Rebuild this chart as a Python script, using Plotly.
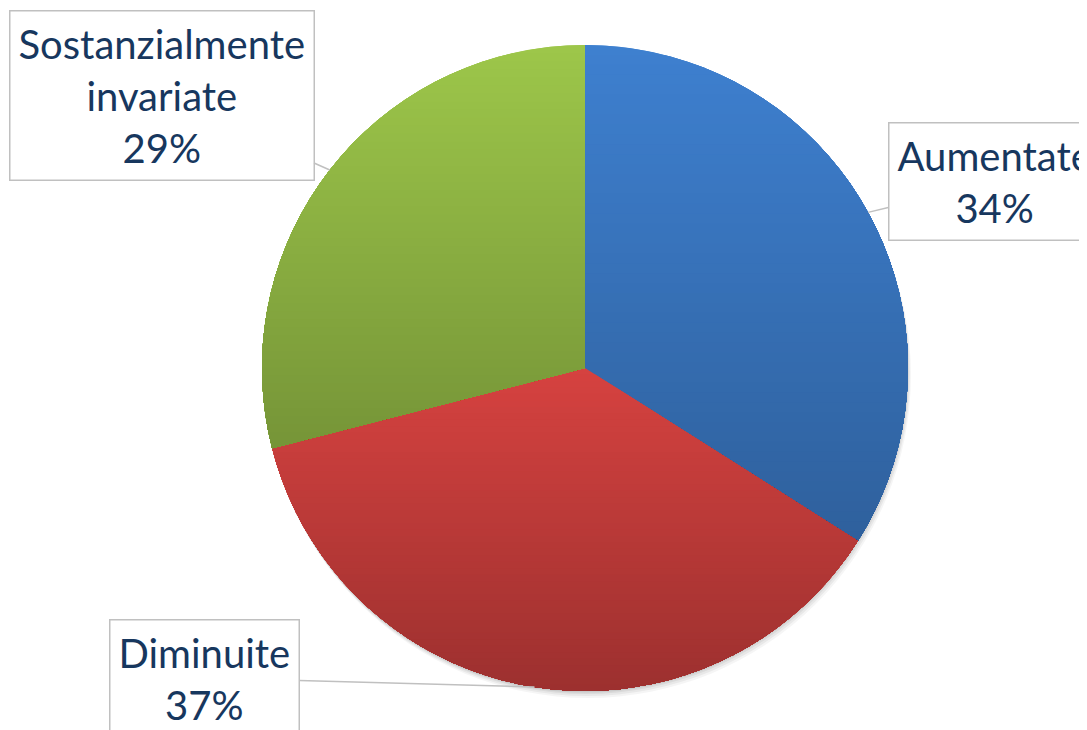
import math
import plotly.graph_objects as go

labels = ["Aumentate", "Diminuite", "Sostanzialmente invariate"]
label_lines = ["Aumentate", "Diminuite", "Sostanzialmente<br>invariate"]
values = [34, 37, 29]
top_colors = ["#3e80d0", "#d64240", "#9dc64a"]
bottom_factor = [0.75, 0.73, 0.75]
# callout box offsets (px) relative to the slice-edge tip
box_offsets = [(126, -31), (-330, -9), (-168, -75)]

W, H = 1079, 722
dom_x = [0.2354, 0.8341]
dom_y = [0.0540, 0.9488]

fig = go.Figure()
fig.add_trace(go.Pie(
    labels=labels, values=values, sort=False, direction="clockwise", rotation=0,
    marker=dict(colors=top_colors, line=dict(width=0)),
    textinfo="none", showlegend=False, hoverinfo="label+percent",
    domain=dict(x=dom_x, y=dom_y),
))

# pie geometry in pixels (derived from the domain)
cx = (dom_x[0] + dom_x[1]) / 2 * W
cy = (1 - (dom_y[0] + dom_y[1]) / 2) * H
r = min((dom_x[1] - dom_x[0]) * W, (dom_y[1] - dom_y[0]) * H) / 2


def to_paper(px, py):
    return px / W, 1 - py / H


def hex_rgb(h):
    h = h.lstrip("#")
    return [int(h[i:i + 2], 16) for i in (0, 2, 4)]


def clip_below(poly, yk):
    # keep part of polygon with py >= yk (Sutherland-Hodgman)
    out = []
    n = len(poly)
    for i in range(n):
        p = poly[i]
        q = poly[(i + 1) % n]
        pin = p[1] >= yk
        qin = q[1] >= yk
        if pin:
            out.append(p)
        if pin != qin:
            t = (yk - p[1]) / (q[1] - p[1])
            out.append((p[0] + t * (q[0] - p[0]), yk))
    return out


shapes = []
# soft shadow below pie
for dx, dy, a in [(3, 7, 0.04), (2, 5, 0.05), (1, 3, 0.06), (0, 1.5, 0.07)]:
    x0, y0 = to_paper(cx - r + dx, cy - r + dy)
    x1, y1 = to_paper(cx + r + dx, cy + r + dy)
    shapes.append(dict(type="circle", xref="paper", yref="paper", x0=x0, x1=x1,
                       y0=y1, y1=y0, fillcolor=f"rgba(0,0,0,{a})", line=dict(width=0),
                       layer="below"))

# per-slice vertical gradient (nested opaque bands clipped to each sector)
total = sum(values)
cum = 0
N = 50
for v, col, bf in zip(values, top_colors, bottom_factor):
    a0 = cum / total * 2 * math.pi
    a1 = (cum + v) / total * 2 * math.pi
    cum += v
    M = max(8, int(120 * v / total))
    poly = [(cx, cy)]
    for j in range(M + 1):
        phi = a0 + (a1 - a0) * j / M
        poly.append((cx + r * math.sin(phi), cy - r * math.cos(phi)))
    ymin = min(p[1] for p in poly)
    ymax = max(p[1] for p in poly)
    rgb = hex_rgb(col)
    for k in range(N):
        yk = ymin + (ymax - ymin) * k / N
        f = 1 - (1 - bf) * (k + 0.5) / N
        c = "rgb({},{},{})".format(*[round(ch * f) for ch in rgb])
        pts = clip_below(poly, yk) if k > 0 else poly
        if len(pts) < 3:
            continue
        pp = [to_paper(x, y) for x, y in pts]
        path = "M " + " L ".join(f"{x:.5f},{y:.5f}" for x, y in pp) + " Z"
        shapes.append(dict(type="path", xref="paper", yref="paper", path=path,
                           fillcolor=c, line=dict(width=0), layer="above"))

annotations = []
cum = 0
for lab, v, (ox, oy) in zip(label_lines, values, box_offsets):
    mid = (cum + v / 2) / total * 2 * math.pi
    cum += v
    tx = cx + r * math.sin(mid)
    ty = cy - r * math.cos(mid)
    x, y = to_paper(tx, ty)
    annotations.append(dict(
        x=x, y=y, xref="paper", yref="paper", ax=ox, ay=oy,
        axref="pixel", ayref="pixel",
        text=f"{lab}<br>{round(v / total * 100)}%",
        showarrow=True, arrowhead=0, arrowwidth=1.5, arrowcolor="#c0c0c0",
        font=dict(family="Lato, 'Open Sans', sans-serif", size=40, color="#17375E"),
        bgcolor="white", bordercolor="#c0c0c0", borderwidth=1.5, borderpad=8,
        align="center",
    ))

fig.update_layout(
    width=W, height=H, margin=dict(l=0, r=0, t=0, b=0),
    paper_bgcolor="white", plot_bgcolor="white",
    shapes=shapes, annotations=annotations,
)
fig.write_html("out.html")
